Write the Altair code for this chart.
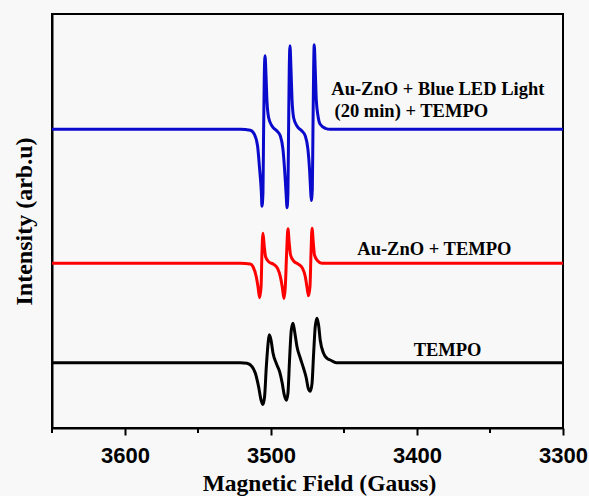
import altair as alt
import pandas as pd

# Magnetic field (Gauss) and intensity (arb. units, offset)
blue_x = [3650, 3540, 3521.0, 3514.2, 3511.4, 3509.2, 3507.8, 3506.6, 3506.2, 3505.5, 3505.1, 3504.6,
          3504.1, 3503.4, 3502.7, 3501.6, 3499.3, 3495.9, 3493.6, 3491.8, 3490.7, 3489.7, 3489.0, 3488.4,
          3488.0, 3487.5, 3487.0, 3486.3, 3485.6, 3484.5, 3482.2, 3478.8, 3476.5, 3474.7, 3473.6, 3472.9,
          3472.4, 3471.7, 3471.3, 3470.8, 3470.4, 3469.7, 3469.0, 3467.8, 3466.3, 3462.8, 3459.4, 3440, 3300]
blue_y = [298.7, 298.7, 298.7, 297.7, 293.7, 282, 259, 235.3, 221.8, 235.3, 292, 352, 372.2, 352, 325.3,
          310.3, 302, 297, 292, 278.7, 258.7, 235.3, 220.2, 235.3, 292, 358.7, 382.2, 358.7, 328.7, 310.3,
          302, 297, 292, 278.7, 258.7, 238.7, 227.5, 238.7, 292, 358.7, 383.2, 358.7, 328.7, 312, 303.7,
          299.7, 298.7, 298.7, 298.7]

red_x = [3650, 3540, 3521.0, 3514.2, 3512.3, 3510.1, 3508.9, 3507.8, 3506.8, 3506.2, 3505.5, 3504.6,
         3503.7, 3501.6, 3498.2, 3495.5, 3493.6, 3492.3, 3491.1, 3490.2, 3489.3, 3488.4, 3487.5, 3486.6,
         3484.5, 3481.1, 3478.4, 3476.5, 3475.4, 3474.3, 3473.3, 3472.6, 3471.9, 3471.0, 3470.2, 3468.1,
         3465.1, 3459.4, 3440, 3300]
red_y = [164.7, 164.7, 164.7, 164, 161.3, 151.3, 141.3, 130.2, 141.3, 174.7, 194.8, 181.3, 171.3, 166.3,
         163.7, 159.7, 151.3, 141.3, 129.5, 141.3, 174.7, 199.2, 184.7, 173, 167, 163.7, 159.7, 151.3,
         141.3, 132.2, 141.3, 174.7, 199.8, 184.7, 173, 167.3, 164.7, 164.7, 164.7, 164.7]

black_x = [3650, 3540, 3521.0, 3516.4, 3513.0, 3510.7, 3508.5, 3506.8, 3505.5, 3504.4, 3503.2, 3502.0,
           3501.2, 3500.0, 3498.6, 3496.4, 3494.1, 3492.3, 3490.9, 3489.5, 3488.4, 3487.3, 3486.1, 3484.9,
           3483.8, 3482.2, 3479.9, 3477.7, 3475.8, 3474.5, 3473.1, 3471.9, 3470.8, 3469.7, 3468.5, 3467.4,
           3466.3, 3464.0, 3461.7, 3459.4, 3455.3, 3440, 3300]
black_y = [65.3, 65.3, 65.3, 64.7, 61.3, 54.7, 41.3, 28, 23.5, 31.3, 61.3, 84.7, 93.2, 88, 74.7, 64.7,
           56.3, 44.7, 33, 27.8, 34.7, 68, 98, 104.8, 96.3, 81.3, 69.7, 59.7, 49.7, 39.7, 36.8, 44.7, 74.7,
           101.3, 109.8, 103, 88, 74.7, 69.7, 68, 65.3, 65.3, 65.3]

series_names = ["Au-ZnO + Blue LED Light (20 min) + TEMPO", "Au-ZnO + TEMPO", "TEMPO"]
series_colors = ["#0a0acc", "#ff0000", "#000000"]

label_text = ["Au-ZnO + Blue LED Light", " (20 min) + TEMPO", "Au-ZnO + TEMPO", "TEMPO"]
label_x = [3458.7, 3456.5, 3440.9, 3402.3]
label_y = [333, 310.7, 173, 72]

major_ticks = [3600, 3500, 3400, 3300]
minor_ticks = [3650, 3550, 3450, 3350]

rows = []
for name, xs, ys in zip(series_names, [blue_x, red_x, black_x], [blue_y, red_y, black_y]):
    for i, (a, b) in enumerate(zip(xs, ys)):
        rows.append({"series": name, "field": a, "intensity": b, "order": i})
df = pd.DataFrame(rows)
labels_df = pd.DataFrame({"text": label_text, "field": label_x, "intensity": label_y})
minor_df = pd.DataFrame({"field": minor_ticks})

xscale = alt.Scale(domain=[3300, 3650], reverse=True, nice=False, zero=False)
yscale = alt.Scale(domain=[0, 414], nice=False, zero=False)

lines = alt.Chart(df).mark_line(strokeWidth=3, interpolate="monotone").encode(
    x=alt.X("field:Q", scale=xscale,
            axis=alt.Axis(values=major_ticks, title="Magnetic Field (Gauss)", grid=False,
                          format="d", labelFont="Liberation Sans", labelFontWeight="bold",
                          labelFontSize=22, labelColor="black", labelFlush=False,
                          labelOverlap=False, labelPadding=10, labelBaseline="top",
                          tickSize=7, tickWidth=2, tickColor="black",
                          domainColor="black", domainWidth=2,
                          titleFont="Liberation Serif", titleFontWeight="bold",
                          titleFontSize=23.5, titleColor="black", titleX=267, titleY=62,
                          titleAlign="center", titleBaseline="alphabetic")),
    y=alt.Y("intensity:Q", scale=yscale,
            axis=alt.Axis(labels=False, ticks=False, grid=False, domainColor="black",
                          domainWidth=2, title="Intensity (arb.u)",
                          titleFont="Liberation Serif", titleFontWeight="bold",
                          titleFontSize=24, titleColor="black", titleAngle=270,
                          titleX=-21, titleY=207, titleAlign="center",
                          titleBaseline="alphabetic")),
    color=alt.Color("series:N", scale=alt.Scale(domain=series_names, range=series_colors),
                    legend=None),
    order="order:Q",
)

texts = alt.Chart(labels_df).mark_text(
    align="left", baseline="alphabetic", font="Liberation Serif", fontWeight="bold",
    fontSize=18.5, color="black"
).encode(
    x=alt.X("field:Q", scale=xscale),
    y=alt.Y("intensity:Q", scale=yscale),
    text="text:N",
)

minor = alt.Chart(minor_df).mark_rule(color="black", strokeWidth=2).encode(
    x=alt.X("field:Q", scale=xscale),
    y=alt.value(414),
    y2=alt.value(419),
)

chart = alt.layer(lines, texts, minor).properties(
    width=511, height=414,
    autosize=alt.AutoSizeParams(type="none"),
    padding={"left": 52, "top": 14, "right": 26, "bottom": 68},
    background="#f8f8f8",
).configure_view(stroke="black", strokeWidth=2, fill="#f8f8f8")

chart.save("out.html", embed_options={"renderer": "svg", "actions": False})
